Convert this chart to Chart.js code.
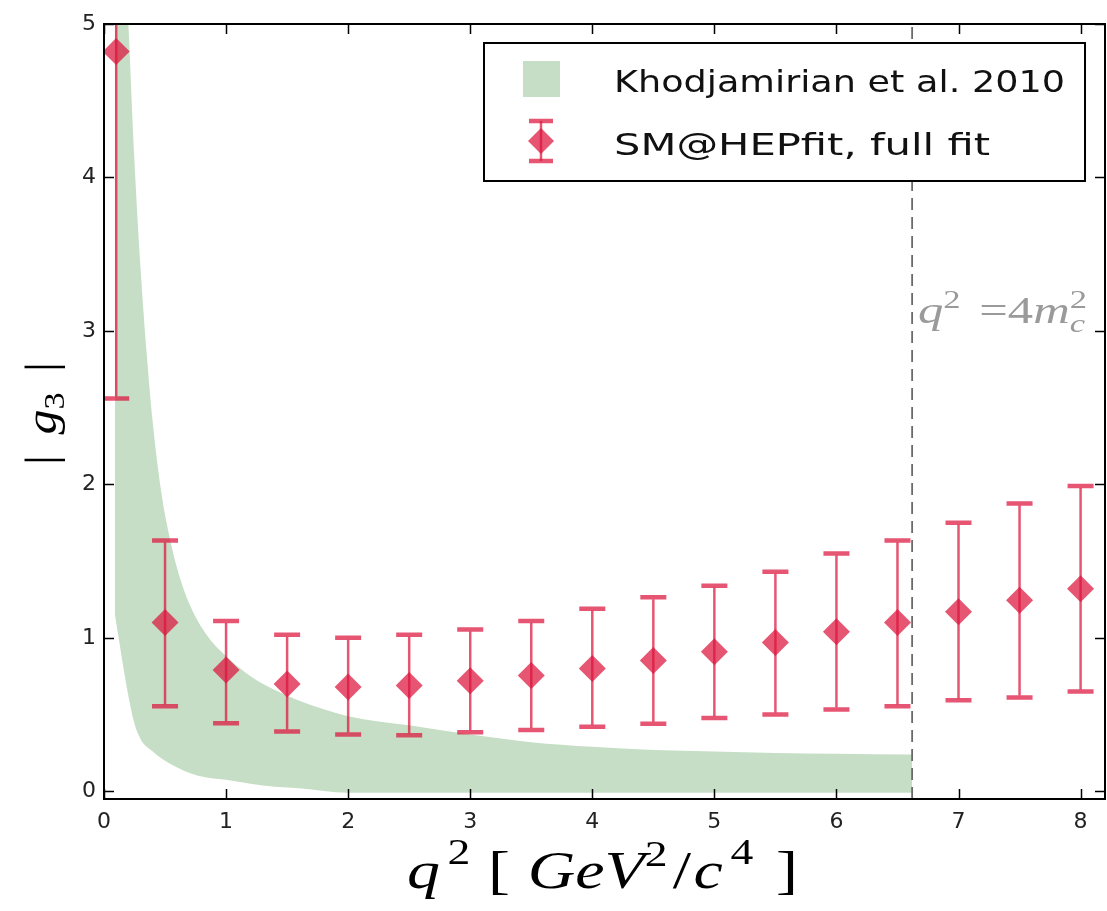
<!DOCTYPE html>
<html lang="en">
<head>
<meta charset="UTF-8">
<title>|g3| vs q2</title>
<script src="https://cdn.jsdelivr.net/npm/chart.js"></script>
<style>
  html, body { margin: 0; padding: 0; background: #fff; }
  #wrap { width: 1107px; height: 911px; }
</style>
</head>
<body>
<div id="wrap"><canvas id="g3Chart" width="1107" height="911"></canvas></div>
<script>
// SM@HEPfit, full fit: central values and error bar ends
const q2Points  = [0.1, 0.5, 1, 1.5, 2, 2.5, 3, 3.5, 4, 4.5, 5, 5.5, 6, 6.5, 7, 7.5, 8];
const g3Central = [4.82, 1.10, 0.79, 0.70, 0.68, 0.69, 0.72, 0.755, 0.80, 0.853, 0.91, 0.97, 1.04, 1.10, 1.17, 1.245, 1.32];
const g3Low     = [2.56, 0.554, 0.443, 0.39, 0.37, 0.365, 0.385, 0.40, 0.42, 0.44, 0.477, 0.50, 0.534, 0.554, 0.593, 0.612, 0.65];
const g3High    = [7.10, 1.635, 1.11, 1.02, 1.00, 1.02, 1.055, 1.11, 1.19, 1.264, 1.34, 1.43, 1.55, 1.635, 1.75, 1.876, 1.99];

// Khodjamirian et al. 2010 band
const bandQ2    = [0.09, 0.12, 0.16, 0.2, 0.25, 0.3, 0.35, 0.4, 0.46, 0.52, 0.6, 0.7, 0.84, 1.0, 1.2, 1.4, 1.6, 2.0, 2.5, 3.0, 3.5, 4.0, 4.5, 5.0, 5.5, 6.0, 6.62];
const bandUpper = [7.5, 6.6, 5.7, 5.0, 4.1, 3.4, 2.85, 2.4, 2.0, 1.72, 1.45, 1.22, 1.02, 0.88, 0.75, 0.66, 0.59, 0.49, 0.43, 0.37, 0.32, 0.29, 0.27, 0.26, 0.25, 0.245, 0.24];
const bandLower = [1.15, 1.0, 0.8, 0.62, 0.44, 0.34, 0.29, 0.26, 0.22, 0.19, 0.155, 0.12, 0.09, 0.075, 0.05, 0.03, 0.02, -0.01, -0.01, -0.01, -0.01, -0.01, -0.01, -0.01, -0.01, -0.01, -0.01];

const thresholdQ2 = 6.62;   // q^2 = 4 m_c^2
const xTicks = [0, 1, 2, 3, 4, 5, 6, 7, 8];
const yTicks = [0, 1, 2, 3, 4, 5];

const red = 'rgba(220,20,60,0.72)';
const green = '#c6dec6';
const serif = '"Liberation Serif", "DejaVu Serif", serif';

// draws a row of text pieces, with sup/sub pieces, scaled to a width
function richText(ctx, parts, x, y, width, color) {
  ctx.save();
  ctx.fillStyle = color;
  ctx.textBaseline = 'alphabetic';
  ctx.textAlign = 'left';
  let total = 0;
  parts.forEach(p => {
    ctx.font = p.font;
    p.w = ctx.measureText(p.t).width;
    if (p.t2) { ctx.font = p.font2; p.w = Math.max(p.w, ctx.measureText(p.t2).width); }
    total += p.w + (p.gap || 0);
  });
  ctx.translate(x, y);
  ctx.scale(width / total, 1);
  let cx = 0;
  parts.forEach(p => {
    ctx.font = p.font;
    ctx.fillText(p.t, cx, p.dy || 0);
    if (p.t2) { ctx.font = p.font2; ctx.fillText(p.t2, cx, p.dy2 || 0); }
    cx += p.w + (p.gap || 0);
  });
  ctx.restore();
}

const errorBars = {
  id: 'errorBars',
  beforeDatasetDraw(chart, args) {
    if (args.index !== 3) return;
    const {ctx, chartArea, scales: {x, y}} = chart;
    ctx.save();
    ctx.beginPath();
    ctx.rect(chartArea.left, chartArea.top, chartArea.right - chartArea.left, chartArea.bottom - chartArea.top);
    ctx.clip();
    ctx.strokeStyle = red;
    q2Points.forEach((q, i) => {
      const px = x.getPixelForValue(q);
      const lo = y.getPixelForValue(g3Low[i]);
      const hi = y.getPixelForValue(g3High[i]);
      ctx.lineWidth = 2.5;
      ctx.beginPath();
      ctx.moveTo(px, lo - 2); ctx.lineTo(px, hi + 2);
      ctx.stroke();
      ctx.lineWidth = 4.5;
      ctx.beginPath();
      ctx.moveTo(px - 13, lo); ctx.lineTo(px + 13, lo);
      ctx.moveTo(px - 13, hi); ctx.lineTo(px + 13, hi);
      ctx.stroke();
    });
    ctx.restore();
  }
};

const decorations = {
  id: 'decorations',
  afterDraw(chart) {
    const {ctx, chartArea: a, scales: {x, y}} = chart;
    ctx.save();
    // frame and inward ticks
    ctx.strokeStyle = '#000';
    ctx.lineWidth = 2;
    ctx.strokeRect(a.left, a.top, a.right - a.left, a.bottom - a.top);
    ctx.lineWidth = 1.5;
    ctx.beginPath();
    xTicks.forEach(v => {
      const px = Math.round(x.getPixelForValue(v)) + 0.5;
      ctx.moveTo(px, a.bottom); ctx.lineTo(px, a.bottom - 10);
      ctx.moveTo(px, a.top); ctx.lineTo(px, a.top + 10);
    });
    yTicks.forEach(v => {
      const py = Math.round(y.getPixelForValue(v)) + 0.5;
      ctx.moveTo(a.left, py); ctx.lineTo(a.left + 10, py);
      ctx.moveTo(a.right, py); ctx.lineTo(a.right - 10, py);
    });
    ctx.stroke();

    // legend
    ctx.fillStyle = '#fff';
    ctx.fillRect(484, 43, 601, 138);
    ctx.lineWidth = 2;
    ctx.strokeRect(484, 43, 601, 138);
    ctx.fillStyle = green;
    ctx.fillRect(523, 61, 37, 36);
    ctx.strokeStyle = red;
    ctx.lineWidth = 2.5;
    ctx.beginPath(); ctx.moveTo(541, 121); ctx.lineTo(541, 161); ctx.stroke();
    ctx.lineWidth = 4.5;
    ctx.beginPath();
    ctx.moveTo(529, 121); ctx.lineTo(553, 121);
    ctx.moveTo(529, 161); ctx.lineTo(553, 161);
    ctx.stroke();
    ctx.fillStyle = red;
    ctx.beginPath();
    ctx.moveTo(541, 128); ctx.lineTo(554, 141); ctx.lineTo(541, 154); ctx.lineTo(528, 141);
    ctx.closePath(); ctx.fill();
    const lf = '31px "DejaVu Sans", sans-serif';
    richText(ctx, [{t: 'Khodjamirian et al. 2010', font: lf}], 614, 92, 451, '#111');
    richText(ctx, [{t: 'SM@HEPfit, full fit', font: lf}], 614, 155, 376, '#111');

    // threshold annotation
    const af = 'italic 38px ' + serif, an = '38px ' + serif, as = '26px ' + serif;
    richText(ctx, [
      {t: 'q', font: af},
      {t: '2', font: as, dy: -15, gap: 14},
      {t: '=4', font: an},
      {t: 'm', font: af},
      {t: '2', font: as, dy: -15, t2: 'c', font2: 'italic 26px ' + serif, dy2: 9}
    ], 918, 323, 169, '#9a9a9a');

    // x axis title
    const xf = 'italic 52px ' + serif, xn = '52px ' + serif, xs = '36px ' + serif;
    richText(ctx, [
      {t: 'q', font: xf, gap: 6},
      {t: '2', font: xs, dy: -24, gap: 14},
      {t: '[', font: xn, gap: 14},
      {t: 'GeV', font: xf},
      {t: '2', font: xs, dy: -22, gap: 4},
      {t: '/', font: xn, gap: 2},
      {t: 'c', font: xf, gap: 6},
      {t: '4', font: xs, dy: -24, gap: 18},
      {t: ']', font: xn}
    ], 407, 888, 391, '#000');

    // y axis title, rotated
    ctx.translate(56, 465);
    ctx.rotate(-Math.PI / 2);
    const yf = 'italic 44px ' + serif, yn = '44px ' + serif, ys = '30px ' + serif;
    richText(ctx, [
      {t: '|', font: yn, gap: 18},
      {t: 'g', font: yf},
      {t: '3', font: ys, dy: 8, gap: 18},
      {t: '|', font: yn}
    ], 0, 0, 103, '#000');
    ctx.restore();
  }
};

const tickFont = {family: '"DejaVu Sans", sans-serif', size: 22};

new Chart(document.getElementById('g3Chart'), {
  type: 'line',
  data: {
    datasets: [
      {
        label: 'Khodjamirian et al. 2010 upper',
        data: bandQ2.map((q, i) => ({x: q, y: bandUpper[i]})),
        fill: '+1',
        backgroundColor: green,
        borderColor: 'rgba(0,0,0,0)',
        borderWidth: 0,
        pointRadius: 0,
        cubicInterpolationMode: 'monotone',
        order: 4
      },
      {
        label: 'Khodjamirian et al. 2010 lower',
        data: bandQ2.map((q, i) => ({x: q, y: bandLower[i]})),
        fill: false,
        borderColor: 'rgba(0,0,0,0)',
        borderWidth: 0,
        pointRadius: 0,
        cubicInterpolationMode: 'monotone',
        order: 3
      },
      {
        label: 'threshold',
        data: [{x: thresholdQ2, y: -0.05}, {x: thresholdQ2, y: 5}],
        borderColor: '#6a6a6a',
        borderWidth: 1.8,
        borderDash: [12, 7],
        pointRadius: 0,
        fill: false,
        order: 2
      },
      {
        label: 'SM@HEPfit, full fit',
        data: q2Points.map((q, i) => ({x: q, y: g3Central[i]})),
        showLine: false,
        pointStyle: 'rectRot',
        pointRadius: 13.5,
        backgroundColor: red,
        borderWidth: 0,
        order: 1
      }
    ]
  },
  options: {
    responsive: false,
    animation: false,
    layout: {autoPadding: false, padding: {top: 24, right: 2, left: 0, bottom: 0}},
    plugins: {legend: {display: false}, tooltip: {enabled: false}},
    scales: {
      x: {
        type: 'linear', min: 0, max: 8.2,
        afterBuildTicks: s => { s.ticks = xTicks.map(v => ({value: v})); },
        afterFit: s => { s.height = 112; s.paddingLeft = 0; s.paddingRight = 0; },
        grid: {display: false, drawTicks: false},
        border: {display: false},
        ticks: {padding: 10, font: tickFont, color: '#222', maxRotation: 0}
      },
      y: {
        type: 'linear', min: -0.05, max: 5,
        afterBuildTicks: s => { s.ticks = yTicks.map(v => ({value: v})); },
        afterFit: s => { s.width = 104; s.paddingTop = 0; s.paddingBottom = 0; },
        grid: {display: false, drawTicks: false},
        border: {display: false},
        ticks: {padding: 8, font: tickFont, color: '#222'}
      }
    }
  },
  plugins: [errorBars, decorations]
});
</script>
</body>
</html>
